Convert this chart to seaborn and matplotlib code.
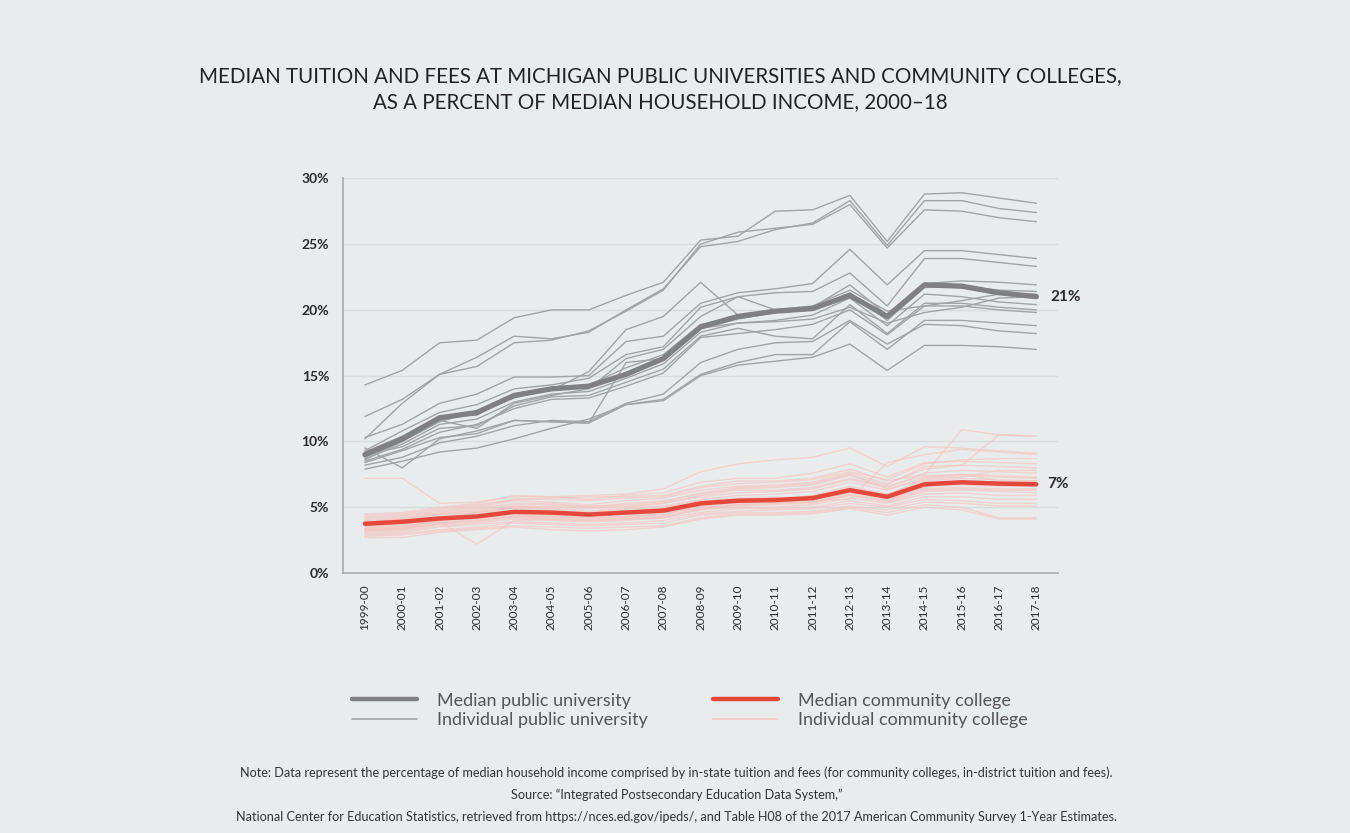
import numpy as np
import pandas as pd
import matplotlib
matplotlib.use("Agg")
import matplotlib.pyplot as plt
from matplotlib.lines import Line2D
import seaborn as sns

years = ["1999-00", "2000-01", "2001-02", "2002-03", "2003-04", "2004-05", "2005-06",
         "2006-07", "2007-08", "2008-09", "2009-10", "2010-11", "2011-12", "2012-13",
         "2013-14", "2014-15", "2015-16", "2016-17", "2017-18"]

median_public = [9.0, 10.2, 11.8, 12.2, 13.5, 14.0, 14.2, 15.1, 16.3, 18.7, 19.5, 19.9,
                 20.1, 21.1, 19.5, 21.9, 21.8, 21.3, 21.0]
median_cc = [3.75, 3.9, 4.15, 4.3, 4.65, 4.6, 4.45, 4.6, 4.75, 5.3, 5.5, 5.55, 5.7,
             6.3, 5.8, 6.75, 6.9, 6.8, 6.75]

public_univs = {
    "P1": [14.3, 15.4, 17.5, 17.7, 19.4, 20.0, 20.0, 21.1, 22.1, 25.3, 25.6, 27.5, 27.6, 28.7, 25.2, 28.8, 28.9, 28.5, 28.1],
    "P2": [11.9, 13.2, 15.1, 16.4, 18.0, 17.8, 18.3, 20.0, 21.6, 24.8, 25.2, 26.1, 26.6, 28.3, 24.9, 28.3, 28.3, 27.7, 27.4],
    "P3": [10.2, 12.9, 15.1, 15.7, 17.5, 17.7, 18.4, 19.9, 21.5, 25.0, 25.9, 26.2, 26.5, 28.0, 24.7, 27.6, 27.5, 27.0, 26.7],
    "P4": [10.3, 11.3, 12.9, 13.6, 14.9, 14.9, 15.0, 17.6, 18.0, 20.5, 21.3, 21.6, 22.0, 24.6, 21.9, 24.5, 24.5, 24.2, 23.9],
    "P5": [9.3, 10.8, 12.2, 12.8, 14.0, 14.3, 14.8, 16.6, 17.2, 20.2, 21.0, 21.3, 21.4, 22.8, 20.3, 23.9, 23.9, 23.6, 23.3],
    "P6": [9.2, 10.4, 11.9, 12.0, 13.6, 13.9, 15.3, 18.5, 19.5, 22.1, 19.6, 19.8, 20.2, 21.9, 19.6, 22.0, 22.2, 22.1, 21.9],
    "P7": [8.8, 10.0, 11.5, 12.3, 13.3, 14.0, 14.3, 15.6, 16.6, 18.9, 19.4, 19.9, 20.1, 21.3, 19.2, 21.7, 21.8, 21.5, 21.4],
    "P8": [8.7, 9.8, 11.3, 11.7, 13.0, 13.6, 13.8, 14.8, 15.9, 18.3, 19.0, 19.2, 19.6, 20.9, 18.8, 21.2, 21.0, 20.6, 20.4],
    "P9": [9.0, 9.6, 11.0, 11.2, 12.7, 13.4, 13.5, 14.5, 15.5, 18.0, 18.6, 18.0, 17.8, 20.4, 18.2, 20.5, 20.5, 20.2, 20.0],
    "P10": [8.5, 9.4, 10.7, 11.3, 12.5, 13.2, 13.3, 14.2, 15.2, 17.9, 18.2, 18.5, 18.9, 20.0, 18.1, 20.3, 20.3, 20.0, 19.8],
    "P11": [8.6, 10.0, 11.6, 11.0, 12.9, 13.5, 14.0, 16.3, 17.0, 19.5, 21.0, 20.0, 20.3, 21.5, 19.9, 20.3, 20.7, 21.2, 21.2],
    "P12": [9.5, 8.0, 10.2, 10.8, 11.6, 11.5, 11.4, 16.0, 16.3, 18.6, 19.0, 19.1, 19.3, 20.2, 19.0, 19.8, 20.2, 20.9, 21.0],
    "P13": [8.4, 9.3, 10.3, 10.6, 11.6, 11.5, 11.4, 12.8, 13.2, 15.1, 16.0, 16.6, 16.6, 19.1, 17.0, 19.2, 19.2, 19.0, 18.8],
    "P14": [8.2, 8.8, 9.9, 10.4, 11.2, 11.6, 11.5, 12.9, 13.6, 16.0, 17.0, 17.5, 17.6, 19.2, 17.4, 18.9, 18.8, 18.4, 18.2],
    "P15": [7.9, 8.5, 9.2, 9.5, 10.2, 11.0, 11.7, 12.8, 13.1, 15.0, 15.8, 16.1, 16.4, 17.4, 15.4, 17.3, 17.3, 17.2, 17.0],
    "P16": [8.9, 10.1, 11.8, 12.1, 13.5, 14.0, 14.2, 15.1, 16.2, 18.6, 19.3, 19.8, 20.0, 21.0, 19.5, 21.8, 21.7, 21.3, 21.0],
}

community_colleges = {
    "C1": [7.2, 7.2, 5.3, 5.4, 5.8, 5.8, 5.9, 6.0, 6.4, 7.7, 8.3, 8.6, 8.8, 9.5, 8.1, 9.6, 9.5, 9.3, 9.1],
    "C2": [3.3, 3.4, 3.9, 2.2, 4.0, 4.1, 4.0, 4.1, 4.2, 4.9, 5.2, 5.3, 5.4, 5.9, 5.5, 6.3, 6.4, 6.3, 6.3],
    "C3": [4.5, 4.6, 5.0, 5.3, 5.9, 5.8, 5.6, 5.9, 6.1, 6.9, 7.2, 7.2, 7.6, 8.3, 7.3, 8.4, 8.5, 8.4, 8.3],
    "C4": [4.3, 4.4, 4.8, 5.1, 5.6, 5.7, 5.8, 5.8, 5.9, 6.6, 7.0, 7.0, 7.2, 7.9, 7.0, 7.5, 10.9, 10.5, 10.4],
    "C5": [4.2, 4.3, 4.7, 5.0, 5.5, 5.4, 5.2, 5.5, 5.7, 6.3, 6.6, 6.7, 6.9, 7.6, 6.8, 7.9, 8.2, 10.5, 10.4],
    "C6": [4.1, 4.2, 4.6, 4.9, 5.3, 5.3, 5.0, 5.3, 5.5, 6.0, 6.4, 6.5, 6.7, 7.4, 6.7, 8.1, 8.2, 8.1, 8.0],
    "C7": [4.0, 4.1, 4.5, 4.7, 5.1, 5.0, 4.9, 5.0, 5.3, 5.8, 6.1, 6.2, 6.4, 7.1, 6.5, 7.6, 7.8, 7.7, 7.6],
    "C8": [3.9, 4.0, 4.4, 4.6, 5.0, 4.9, 4.7, 4.9, 5.1, 5.6, 5.9, 6.0, 6.2, 6.9, 6.3, 7.3, 7.5, 7.4, 7.3],
    "C9": [3.8, 3.9, 4.3, 4.5, 4.9, 4.8, 4.6, 4.8, 5.0, 5.5, 5.7, 5.8, 5.5, 5.6, 8.4, 9.0, 9.4, 9.2, 9.0],
    "C10": [3.7, 3.8, 4.2, 4.4, 4.8, 4.7, 4.5, 4.7, 4.9, 5.4, 5.6, 5.7, 5.9, 6.6, 6.0, 7.0, 7.2, 7.1, 7.0],
    "C11": [3.6, 3.7, 4.1, 4.3, 4.7, 4.6, 4.4, 4.6, 4.8, 5.2, 5.5, 5.5, 5.7, 6.4, 5.9, 6.8, 7.0, 6.9, 6.9],
    "C12": [3.5, 3.6, 4.0, 4.2, 4.5, 4.4, 4.3, 4.5, 4.6, 5.1, 5.3, 5.4, 5.6, 6.2, 5.7, 6.6, 6.7, 6.6, 6.6],
    "C13": [3.4, 3.5, 3.9, 4.1, 4.4, 4.3, 4.2, 4.3, 4.5, 5.0, 5.2, 5.3, 5.4, 6.0, 5.6, 6.4, 6.5, 6.4, 6.4],
    "C14": [3.3, 3.4, 3.8, 4.0, 4.3, 4.2, 4.1, 4.2, 4.4, 4.9, 5.1, 5.2, 5.3, 5.9, 5.4, 6.2, 6.3, 6.2, 6.1],
    "C15": [3.2, 3.3, 3.7, 3.9, 4.2, 4.1, 4.0, 4.1, 4.3, 4.8, 5.0, 5.0, 5.2, 5.7, 5.3, 6.0, 6.1, 5.9, 5.9],
    "C16": [3.1, 3.2, 3.6, 3.8, 4.1, 4.0, 3.9, 4.0, 4.2, 4.6, 4.9, 4.9, 5.0, 5.5, 5.1, 5.8, 5.8, 5.6, 5.6],
    "C17": [3.0, 3.1, 3.5, 3.7, 3.9, 3.8, 3.7, 3.8, 4.0, 4.5, 4.7, 4.8, 4.9, 5.3, 5.0, 5.6, 5.5, 5.3, 5.3],
    "C18": [2.9, 3.0, 3.3, 3.5, 3.8, 3.7, 3.6, 3.7, 3.8, 4.4, 4.6, 4.6, 4.7, 5.1, 4.8, 5.4, 5.3, 5.1, 5.1],
    "C19": [2.8, 2.9, 3.2, 3.4, 3.6, 3.5, 3.4, 3.5, 3.6, 4.2, 4.5, 4.5, 4.6, 5.0, 4.6, 5.2, 5.0, 4.2, 4.2],
    "C20": [2.7, 2.7, 3.1, 3.3, 3.5, 3.3, 3.2, 3.3, 3.5, 4.1, 4.4, 4.4, 4.5, 4.9, 4.4, 5.0, 4.8, 4.1, 4.1],
    "C21": [3.6, 3.7, 4.2, 4.6, 5.0, 5.1, 5.0, 5.1, 5.3, 5.9, 6.3, 6.3, 6.5, 7.2, 6.6, 7.4, 7.5, 7.0, 7.0],
    "C22": [4.4, 4.5, 4.9, 5.2, 5.6, 5.6, 5.5, 5.7, 5.8, 6.5, 6.8, 6.9, 7.1, 7.7, 7.1, 8.3, 8.6, 8.7, 8.7],
    "C23": [3.9, 4.1, 4.5, 4.8, 5.2, 5.2, 5.1, 5.2, 5.4, 6.1, 6.5, 6.6, 6.8, 7.5, 6.4, 7.1, 7.3, 7.8, 7.8],
    "C24": [3.4, 3.5, 4.0, 4.3, 4.6, 4.5, 4.4, 4.5, 4.7, 5.3, 5.6, 5.6, 5.8, 6.5, 5.9, 7.2, 7.4, 7.3, 7.2],
    "C25": [3.2, 3.3, 3.8, 4.0, 4.3, 4.3, 4.2, 4.3, 4.5, 5.1, 5.4, 5.4, 5.5, 6.1, 5.8, 6.5, 6.9, 6.7, 6.6],
}

y_ticks = [0, 5, 10, 15, 20, 25, 30]
y_tick_labels = ["0%", "5%", "10%", "15%", "20%", "25%", "30%"]

title = ("MEDIAN TUITION AND FEES AT MICHIGAN PUBLIC UNIVERSITIES AND COMMUNITY COLLEGES,\n"
         "AS A PERCENT OF MEDIAN HOUSEHOLD INCOME, 2000\u201318")
legend_labels = ["Median public university", "Individual public university",
                 "Median community college", "Individual community college"]
note_lines = [
    "Note: Data represent the percentage of median household income comprised by in-state tuition and fees (for community colleges, in-district tuition and fees).",
    "Source: \u201cIntegrated Postsecondary Education Data System,\u201d",
    "National Center for Education Statistics, retrieved from https://nces.ed.gov/ipeds/, and Table H08 of the 2017 American Community Survey 1-Year Estimates.",
]

# ---------- data frames ----------
x_idx = list(range(len(years)))

def long_df(d):
    rows = []
    for name, vals in d.items():
        for i, v in zip(x_idx, vals):
            rows.append((name, i, v))
    return pd.DataFrame(rows, columns=["inst", "x", "value"])

df_pub = long_df(public_univs)
df_cc = long_df(community_colleges)
df_med_pub = pd.DataFrame({"x": x_idx, "value": median_public})
df_med_cc = pd.DataFrame({"x": x_idx, "value": median_cc})

# ---------- style ----------
BG = "#e9ecec"
sns.set_theme(style="white")
plt.rcParams["font.family"] = ["Lato", "DejaVu Sans"]

C_MED_PUB = "#808084"
C_IND_PUB = "#a2a3a6"
C_MED_CC = "#e5483a"
C_IND_CC = "#f4c4bf"

fig = plt.figure(figsize=(13.5, 8.33), dpi=100, facecolor=BG)
ax = fig.add_axes([0.254, 0.312, 0.53, 0.474])
ax.set_facecolor(BG)

sns.lineplot(data=df_cc, x="x", y="value", units="inst", estimator=None,
             color=C_IND_CC, lw=1.0, alpha=0.65, ax=ax, legend=False)
sns.lineplot(data=df_pub, x="x", y="value", units="inst", estimator=None,
             color=C_IND_PUB, lw=1.0, ax=ax, legend=False)
sns.lineplot(data=df_med_cc, x="x", y="value", color=C_MED_CC, lw=3.2, ax=ax,
             legend=False)
sns.lineplot(data=df_med_pub, x="x", y="value", color=C_MED_PUB, lw=3.8, ax=ax,
             legend=False)

ax.set_xlim(-0.59, len(years) - 1 + 0.59)
ax.set_ylim(0, 30)
ax.set_yticks(y_ticks)
ax.set_yticklabels(y_tick_labels, fontsize=10, fontweight="bold", color="#2a2a2a")
ax.set_xticks(x_idx)
ax.set_xticklabels(years, rotation=90, fontsize=8.5, color="#2a2a2a")
ax.tick_params(axis="both", length=0)
ax.tick_params(axis="y", pad=10)
ax.tick_params(axis="x", pad=8)
ax.set_xlabel("")
ax.set_ylabel("")
ax.grid(axis="y", color="#d9dcdd", lw=1.0)
ax.grid(axis="x", visible=False)
ax.set_axisbelow(True)
for s in ["top", "right"]:
    ax.spines[s].set_visible(False)
for s in ["left", "bottom"]:
    ax.spines[s].set_color("#a9abad")
    ax.spines[s].set_linewidth(1.2)

# end labels
ax.annotate(f"{round(median_public[-1])}%", xy=(x_idx[-1], median_public[-1]),
            xytext=(10, 0), textcoords="offset points", va="center", ha="left",
            fontsize=11, fontweight="bold", color="#2a2a2a", annotation_clip=False)
ax.annotate(f"{round(median_cc[-1])}%", xy=(x_idx[-1], median_cc[-1]),
            xytext=(8, 0), textcoords="offset points", va="center", ha="left",
            fontsize=11, fontweight="bold", color="#2a2a2a", annotation_clip=False)

# title
fig.text(0.489, 0.893, title, ha="center", va="center", fontsize=14.8,
         color="#222222", linespacing=1.35)

# legend
handles = [
    Line2D([], [], color=C_MED_PUB, lw=3.2),
    Line2D([], [], color=C_IND_PUB, lw=1.2),
    Line2D([], [], color=C_MED_CC, lw=3.2),
    Line2D([], [], color=C_IND_CC, lw=1.5, alpha=0.8),
]
leg = fig.legend(handles, legend_labels, ncol=2, loc="center left",
                 bbox_to_anchor=(0.249, 0.147), frameon=False, fontsize=13,
                 handlelength=3.6, handletextpad=1.1, columnspacing=3.6,
                 labelspacing=0.2, labelcolor="#555555")

# notes
for i, line in enumerate(note_lines):
    fig.text(0.501, 0.072 - i * 0.0265, line, ha="center", va="center",
             fontsize=9.1, color="#333333")

fig.savefig("out.png", dpi=100, facecolor=BG)
